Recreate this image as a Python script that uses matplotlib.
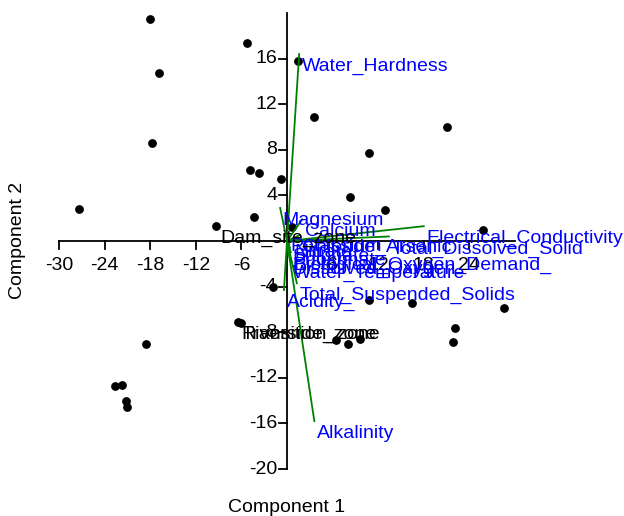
import numpy as np
import matplotlib
matplotlib.use('Agg')
import matplotlib.pyplot as plt

plt.rcParams['font.family'] = ['Liberation Sans', 'DejaVu Sans']

# Sample scores (Component 1, Component 2)
score_x = [-18.0, -16.8, -17.8, -5.3, 1.4, 3.6, 10.8, 21.1, -4.9, -3.7, -0.8,
           8.3, 12.9, -27.4, -9.3, -4.3, 0.6, 25.8, 28.5, 16.5, 10.8, 22.1,
           21.8, -1.9, -6.4, -6.0, -18.6, 6.5, 8.0, 9.6, -22.6, -21.7, -21.2,
           -21.1]
score_y = [19.5, 14.7, 8.6, 17.4, 15.8, 10.9, 7.7, 10.0, 6.2, 6.0, 5.4,
           3.9, 2.7, 2.8, 1.3, 2.1, 1.2, 1.0, -5.9, -5.4, -5.2, -7.6,
           -8.9, -4.0, -7.1, -7.2, -9.0, -8.7, -9.0, -8.6, -12.7, -12.6, -14.0,
           -14.6]

# Variable loadings (scaled)
var_names = ['Water_Hardness', 'Alkalinity', 'Electrical_Conductivity',
             'Total_Dissolved_Solid', 'Magnesium', 'Calcium', 'Potassium',
             'Chloride_Arsenic', 'Nitrate', 'Sulphate', 'Phosphate',
             'Biological_Oxygen_Demand_', 'Dissolved_Oxygen',
             'Water_Temperature', 'Total_Suspended_Solids', 'Acidity_']
load_x = [1.6, 3.6, 18.0, 13.4, -0.9, 2.0, 0.1, 1.6, 0.6, 0.3, 0.4,
          0.5, 0.4, 0.4, 1.3, -0.4]
load_y = [16.4, -15.8, 1.3, 0.4, 2.9, 1.9, 0.6, 0.5, 0.1, -0.3, -0.6,
          -1.0, -1.4, -1.7, -3.7, -4.3]

# Group labels
group_names = ['Dam_site_zone', 'Riverside_zone', 'Transition_zone']
group_x = [-8.8, -6.0, -6.0]
group_y = [0.2, -8.2, -8.2]

xticks = [-30, -24, -18, -12, -6, 6, 12, 18, 24]
yticks = [-20, -16, -12, -8, -4, 4, 8, 12, 16]
xlim_axis = (-30, 30)
ylim_axis = (-20, 20)

fig = plt.figure(figsize=(6.24, 5.16), dpi=100)
ax = fig.add_axes([0, 0, 1, 1])
ax.set_xlim(-37.76, 44.34)
ax.set_ylim(-24.12, 21.14)
ax.axis('off')

fs = 14

# axes through origin
ax.plot(xlim_axis, [0, 0], color='black', lw=1.3, zorder=2)
ax.plot([0, 0], ylim_axis, color='black', lw=1.3, zorder=2)
for t in xticks:
    ax.plot([t, t], [0, -0.7], color='black', lw=1.3, zorder=2)
    ax.text(t, -2.15, str(t), ha='center', va='center', fontsize=fs, zorder=2)
for t in yticks:
    ax.plot([0, -1.05], [t, t], color='black', lw=1.3, zorder=2)
    ax.text(-1.3, t, str(t), ha='right', va='center', fontsize=fs, zorder=2)

# points
ax.scatter(score_x, score_y, s=28, color='black', zorder=3)

# loading vectors
for name, lx, ly in zip(var_names, load_x, load_y):
    ax.plot([0, lx], [0, ly], color='green', lw=1.3, zorder=4)
    ax.text(lx + 0.35, ly - 0.35, name, color='blue', fontsize=fs,
            ha='left', va='top', zorder=5)

# group labels
for name, gx, gy in zip(group_names, group_x, group_y):
    ax.text(gx, gy, name, color='black', fontsize=fs, ha='left',
            va='center', zorder=5)

fig.text(287 / 624, 1 - 507 / 516, 'Component 1', ha='center', va='center',
         fontsize=fs)
fig.text(18 / 624, 1 - 240 / 516, 'Component 2', ha='center', va='center',
         fontsize=fs, rotation=90)

fig.savefig('out.png', dpi=100)
